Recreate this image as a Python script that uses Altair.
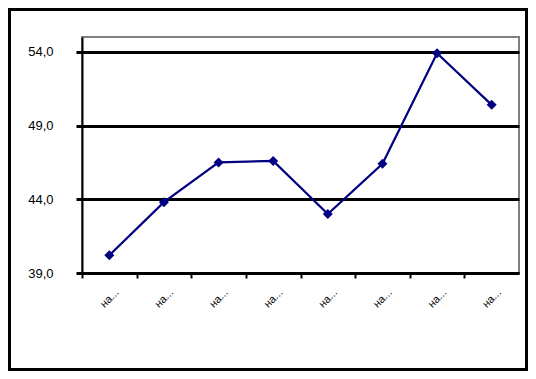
import altair as alt
import pandas as pd
import json

# Data
labels = ["на...", "на...", "на...", "на...", "на...", "на...", "на...", "на..."]
values = [40.2, 43.8, 46.5, 46.6, 43.0, 46.4, 53.9, 50.4]
y_ticks = [39, 44, 49, 54]

n = len(values)
df = pd.DataFrame({"idx": list(range(n)), "value": values})

labels_js = json.dumps(labels, ensure_ascii=False)
label_expr = f"datum.value < {n} ? {labels_js}[round(datum.value)] : ''"

NAVY = "#000080"
PLOT_W = 437
HALF_BAND = PLOT_W / n / 2
x_scale = alt.Scale(domain=[-0.5, n - 0.5], nice=False, zero=False)
y_scale = alt.Scale(domain=[39, 55], nice=False, zero=False)
x_axis = alt.Axis(
    values=list(range(n + 1)),
    labelExpr=label_expr,
    labelAngle=315,
    labelAlign="center",
    labelBaseline="middle",
    labelFont="Liberation Sans",
    labelFontSize=11,
    labelColor="black",
    labelPadding=20,
    labelOffset=HALF_BAND,
    labelFlush=False,
    labelOverlap=False,
    ticks=True,
    tickOffset=-HALF_BAND,
    tickColor="black",
    tickWidth=2,
    tickSize=5,
    domainColor="black",
    domainWidth=2,
    grid=False,
)
x_enc = alt.X("idx:Q", title=None, scale=x_scale, axis=x_axis)
y_axis = alt.Axis(
    values=y_ticks,
    labelExpr="replace(format(datum.value, '.1f'), '.', ',')",
    labelFont="Liberation Sans",
    labelFontSize=13,
    labelColor="black",
    labelPadding=23,
    tickColor="black",
    tickWidth=3,
    tickSize=6,
    domainColor="black",
    domainWidth=2,
    grid=True,
    gridColor="black",
    gridWidth=3,
)
y_enc = alt.Y("value:Q", title=None, scale=y_scale, axis=y_axis)

base = alt.Chart(df)
line = base.mark_line(color=NAVY, strokeWidth=2.2).encode(x=x_enc, y=y_enc)
pts = base.mark_point(shape="diamond", filled=True, size=100, color=NAVY, opacity=1).encode(x=x_enc, y=y_enc)

frame = alt.Chart(pd.DataFrame({"a": [0]})).mark_rect(
    filled=False, stroke="black", strokeWidth=3
).encode(
    x=alt.value(-72.5),
    x2=alt.value(444.5),
    y=alt.value(-27.5),
    y2=alt.value(332.5),
)

chart = alt.layer(frame, line, pts).properties(
    width=PLOT_W,
    height=236,
    padding={"left": 74, "top": 29, "right": 9, "bottom": 98},
    autosize=alt.AutoSizeParams(type="none"),
    background="white",
).configure_view(
    stroke="#808080",
    strokeWidth=2,
)

chart.save("out.html", embed_options={"renderer": "svg", "actions": False})
